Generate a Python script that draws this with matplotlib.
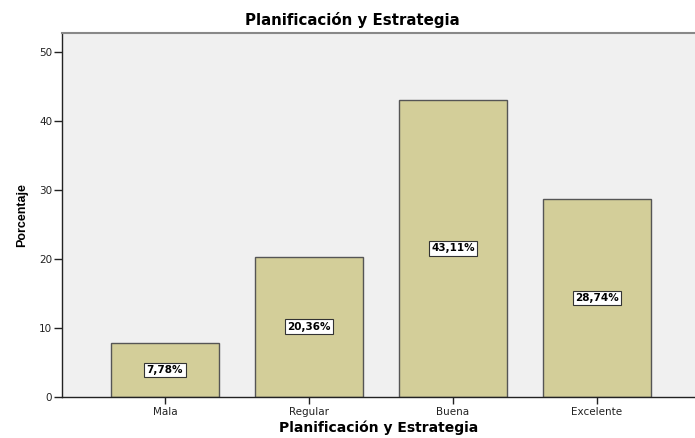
import matplotlib
matplotlib.use("Agg")
import matplotlib.pyplot as plt

categories = ["Mala", "Regular", "Buena", "Excelente"]
percentages = [7.78, 20.36, 43.11, 28.74]
labels = ["7,78%", "20,36%", "43,11%", "28,74%"]
yticks = [0, 10, 20, 30, 40, 50]

plt.rcParams["font.family"] = ["DejaVu Sans"]

fig = plt.figure(figsize=(6.95, 4.38), dpi=100)
ax = fig.add_axes([62 / 695, 41 / 438, 633 / 695, 364 / 438])
ax.set_facecolor("#F0F0F0")

x = list(range(len(categories)))
ax.bar(x, percentages, width=0.75, color="#D3CE99", edgecolor="#555555",
       linewidth=1.0, zorder=2)

for xi, v, lab in zip(x, percentages, labels):
    ax.text(xi, v / 2, lab, ha="center", va="center", fontsize=7.5,
            fontweight="bold", color="black", zorder=3,
            bbox=dict(boxstyle="square,pad=0.22", facecolor="white",
                      edgecolor="#333333", linewidth=0.8))

ax.set_xlim(-0.715, 3.68)
ax.set_ylim(0, 52.75)
ax.set_xticks(x)
ax.set_xticklabels(categories, fontsize=7.5)
ax.set_yticks(yticks)
ax.set_yticklabels([str(t) for t in yticks], fontsize=7.5)
ax.tick_params(axis="y", direction="out", length=6, width=1, colors="#222222", pad=1)
ax.tick_params(axis="x", direction="out", length=5, width=1, colors="#222222", pad=2)

for side in ("left", "bottom"):
    ax.spines[side].set_color("#222222")
    ax.spines[side].set_linewidth(1.0)
ax.spines["top"].set_color("#888888")
ax.spines["top"].set_linewidth(1.5)
ax.spines["right"].set_visible(False)

fig.text(352 / 695, 1 - 20 / 438, "Planificación y Estrategia", fontsize=10.8,
         fontweight="bold", ha="center", va="center")
ax.set_xlabel("Planificación y Estrategia", fontsize=10, fontweight="bold", labelpad=3)
ax.set_ylabel("Porcentaje", fontsize=9, fontweight="bold", labelpad=8,
              family="Liberation Sans")

fig.savefig("out.png", dpi=100)
